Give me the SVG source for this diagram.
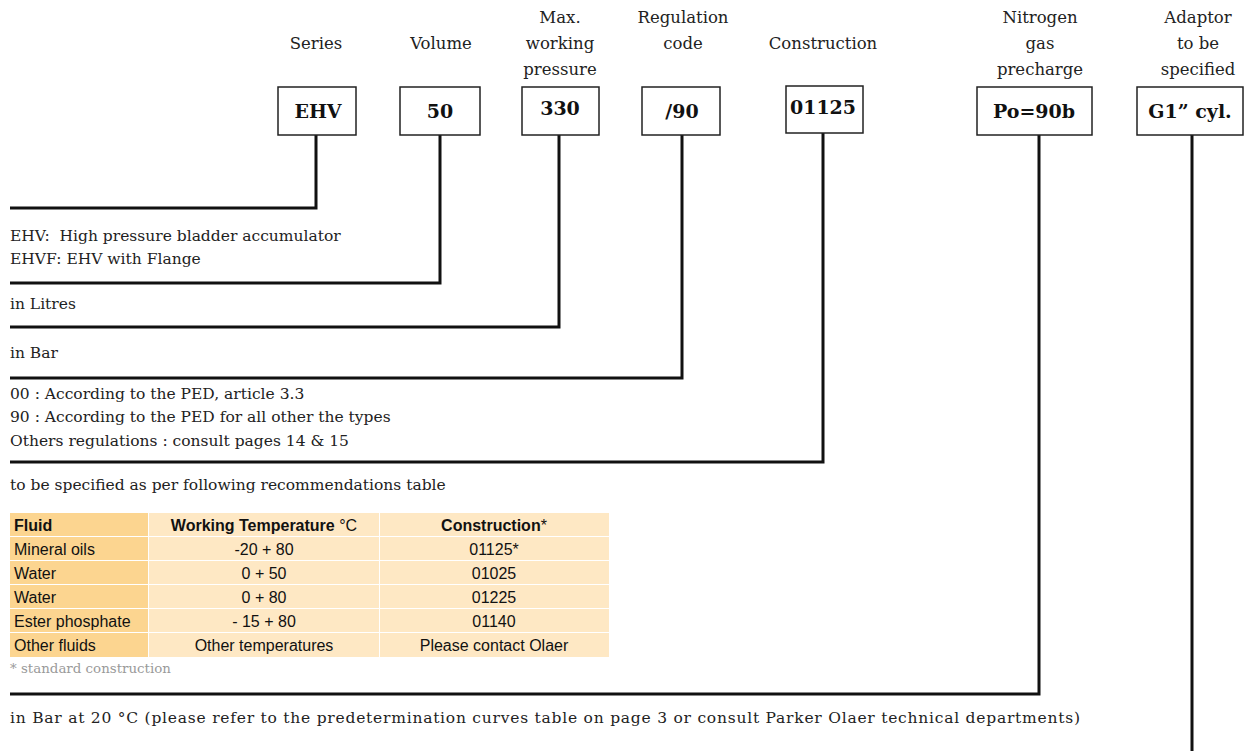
<svg xmlns="http://www.w3.org/2000/svg" width="1246" height="751" viewBox="0 0 1246 751">
<style>
.hd{font-family:"DejaVu Serif","Liberation Serif",serif;font-size:16.5px;fill:#222;text-anchor:middle}
.bx{fill:#fff;stroke:#222;stroke-width:1.5}
.bl{font-family:"DejaVu Serif","Liberation Serif",serif;font-size:19px;font-weight:bold;fill:#111;text-anchor:middle}
.tx{font-family:"DejaVu Serif","Liberation Serif",serif;font-size:15.5px;fill:#222}
.ln{fill:none;stroke:#111;stroke-width:3}
.c1{fill:#FCD590}
.c2{fill:#FEE8C4}
.tt{font-family:"Liberation Sans",Arial,sans-serif;font-size:16px;fill:#111}
.tc{text-anchor:middle}
.b{font-weight:bold}
.note{font-family:"DejaVu Serif","Liberation Serif",serif;font-size:13.4px;fill:#9a9a9a}
</style>
<g id="connectors">
<polyline class="ln" points="316,135 316,208 10,208"/>
<polyline class="ln" points="440,135 440,283 10,283"/>
<polyline class="ln" points="559,135 559,327 10,327"/>
<polyline class="ln" points="682,135 682,378 10,378"/>
<polyline class="ln" points="823,133 823,462 10,462"/>
<polyline class="ln" points="1039,135 1039,694 10,694"/>
<polyline class="ln" points="1192,135 1192,751"/>
</g>
<g id="series">
<text class="hd" x="316" y="49">Series</text>
<rect class="bx" x="278" y="87" width="78" height="48"/>
<text class="bl" x="318" y="118">EHV</text>
</g>
<g id="volume">
<text class="hd" x="441" y="49">Volume</text>
<rect class="bx" x="400" y="87" width="80" height="48"/>
<text class="bl" x="440" y="118">50</text>
</g>
<g id="pressure">
<text class="hd" x="560" y="23">Max.</text>
<text class="hd" x="560" y="49">working</text>
<text class="hd" x="560" y="75">pressure</text>
<rect class="bx" x="522" y="87" width="77" height="48"/>
<text class="bl" x="560" y="115">330</text>
</g>
<g id="regulation">
<text class="hd" x="683" y="23">Regulation</text>
<text class="hd" x="683" y="49">code</text>
<rect class="bx" x="642" y="87" width="78" height="48"/>
<text class="bl" x="682" y="118">/90</text>
</g>
<g id="construction">
<text class="hd" x="823" y="49">Construction</text>
<rect class="bx" x="786" y="86" width="77" height="47"/>
<text class="bl" x="823" y="114">01125</text>
</g>
<g id="nitrogen">
<text class="hd" x="1040" y="23">Nitrogen</text>
<text class="hd" x="1040" y="49">gas</text>
<text class="hd" x="1040" y="75">precharge</text>
<rect class="bx" x="977" y="87" width="115" height="48"/>
<text class="bl" x="1034" y="118">Po=90b</text>
</g>
<g id="adaptor">
<text class="hd" x="1198" y="23">Adaptor</text>
<text class="hd" x="1198" y="49">to be</text>
<text class="hd" x="1198" y="75">specified</text>
<rect class="bx" x="1137" y="87" width="106" height="48"/>
<text class="bl" x="1190" y="118">G1” cyl.</text>
</g>
<g id="descriptions">
<text class="tx" x="10" y="241" xml:space="preserve">EHV:  High pressure bladder accumulator</text>
<text class="tx" x="10" y="264">EHVF: EHV with Flange</text>
<text class="tx" x="10" y="309">in Litres</text>
<text class="tx" x="10" y="358">in Bar</text>
<text class="tx" x="10" y="399">00 : According to the PED, article 3.3</text>
<text class="tx" x="10" y="422">90 : According to the PED for all other the types</text>
<text class="tx" x="10" y="446">Others regulations : consult pages 14 &amp; 15</text>
<text class="tx" x="10" y="490">to be specified as per following recommendations table</text>
<text class="tx" x="10" y="723" textLength="1070" lengthAdjust="spacing">in Bar at 20 °C (please refer to the predetermination curves table on page 3 or consult Parker Olaer technical departments)</text>
</g>
<g id="table">
<rect class="c1" x="10" y="513" width="138" height="23"/>
<rect class="c2" x="149" y="513" width="230" height="23"/>
<rect class="c2" x="380" y="513" width="229" height="23"/>
<rect class="c1" x="10" y="537" width="138" height="23"/>
<rect class="c2" x="149" y="537" width="230" height="23"/>
<rect class="c2" x="380" y="537" width="229" height="23"/>
<rect class="c1" x="10" y="561" width="138" height="23"/>
<rect class="c2" x="149" y="561" width="230" height="23"/>
<rect class="c2" x="380" y="561" width="229" height="23"/>
<rect class="c1" x="10" y="585" width="138" height="23"/>
<rect class="c2" x="149" y="585" width="230" height="23"/>
<rect class="c2" x="380" y="585" width="229" height="23"/>
<rect class="c1" x="10" y="609" width="138" height="23"/>
<rect class="c2" x="149" y="609" width="230" height="23"/>
<rect class="c2" x="380" y="609" width="229" height="23"/>
<rect class="c1" x="10" y="633" width="138" height="24"/>
<rect class="c2" x="149" y="633" width="230" height="24"/>
<rect class="c2" x="380" y="633" width="229" height="24"/>
<text class="tt b" x="14" y="531">Fluid</text>
<text class="tt tc" x="264" y="531"><tspan class="b">Working Temperature</tspan> °C</text>
<text class="tt tc b" x="494" y="531">Construction<tspan font-weight="normal">*</tspan></text>
<text class="tt" x="14" y="555">Mineral oils</text>
<text class="tt tc" x="264" y="555">-20 + 80</text>
<text class="tt tc" x="494" y="555">01125*</text>
<text class="tt" x="14" y="579">Water</text>
<text class="tt tc" x="264" y="579">0 + 50</text>
<text class="tt tc" x="494" y="579">01025</text>
<text class="tt" x="14" y="603">Water</text>
<text class="tt tc" x="264" y="603">0 + 80</text>
<text class="tt tc" x="494" y="603">01225</text>
<text class="tt" x="14" y="627">Ester phosphate</text>
<text class="tt tc" x="264" y="627">- 15 + 80</text>
<text class="tt tc" x="494" y="627">01140</text>
<text class="tt" x="14" y="651">Other fluids</text>
<text class="tt tc" x="264" y="651">Other temperatures</text>
<text class="tt tc" x="494" y="651">Please contact Olaer</text>
<text class="note" x="10" y="673">* standard construction</text>
</g>
</svg>
